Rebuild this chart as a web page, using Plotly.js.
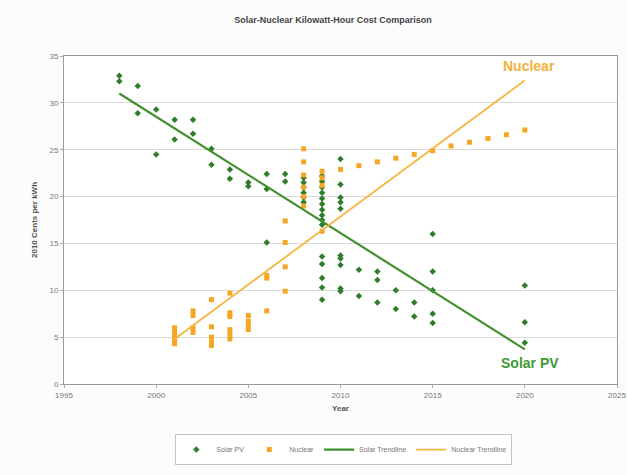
<!DOCTYPE html>
<html>
<head>
<meta charset="utf-8">
<script src="https://cdn.plot.ly/plotly-3.0.1.min.js"></script>
<style>
  html, body { margin: 0; padding: 0; background: #fcfcfc; }
  #chart { width: 627px; height: 475px; }
</style>
</head>
<body>
<div id="chart"></div>
<script>
// ---- Data ----
const solarYears = [
  1998, 1998, 1999, 1999, 2000, 2000, 2001, 2001, 2002, 2002,
  2003, 2003, 2004, 2004, 2005, 2005, 2006, 2006, 2006, 2007, 2007,
  2008, 2008, 2008, 2008, 2008, 2008,
  2009, 2009, 2009, 2009, 2009, 2009, 2009, 2009, 2009, 2009, 2009, 2009, 2009, 2009, 2009,
  2010, 2010, 2010, 2010, 2010, 2010, 2010, 2010, 2010, 2010,
  2011, 2011, 2012, 2012, 2012, 2013, 2013, 2014, 2014,
  2015, 2015, 2015, 2015, 2015, 2020, 2020, 2020
];
const solarCost = [
  32.9, 32.3, 31.8, 28.9, 29.3, 24.5, 28.2, 26.1, 28.2, 26.7,
  25.1, 23.4, 22.9, 21.9, 21.5, 21.1, 22.4, 20.8, 15.1, 22.4, 21.6,
  22.0, 21.5, 21.0, 20.4, 19.9, 19.4,
  22.2, 21.6, 21.0, 20.4, 19.8, 19.2, 18.6, 18.0, 17.5, 17.0, 13.6, 12.8, 11.3, 10.3, 9.0,
  24.0, 21.3, 19.9, 19.4, 18.7, 13.7, 13.4, 12.7, 10.2, 9.9,
  12.2, 9.4, 12.0, 11.1, 8.7, 10.0, 8.0, 8.7, 7.2,
  16.0, 12.0, 10.0, 7.5, 6.5, 10.5, 6.6, 4.4
];
const nuclearYears = [
  2001, 2001, 2001, 2001, 2001, 2002, 2002, 2002, 2002,
  2003, 2003, 2003, 2003, 2003, 2004, 2004, 2004, 2004, 2004, 2004,
  2005, 2005, 2005, 2005, 2006, 2006, 2006, 2007, 2007, 2007, 2007,
  2008, 2008, 2008, 2008, 2008, 2008, 2009, 2009, 2009, 2009,
  2010, 2011, 2012, 2013, 2014, 2015, 2016, 2017, 2018, 2019, 2020
];
const nuclearCost = [
  6.0, 5.5, 5.0, 4.6, 4.3, 7.8, 7.3, 6.0, 5.5,
  9.0, 6.1, 5.0, 4.5, 4.1, 9.7, 7.6, 7.2, 5.8, 5.3, 4.8,
  7.3, 6.7, 6.2, 5.8, 11.6, 11.3, 7.8, 17.4, 15.1, 12.5, 9.9,
  25.1, 23.7, 22.3, 21.0, 20.0, 19.0, 22.7, 22.0, 21.2, 16.3,
  22.9, 23.3, 23.7, 24.1, 24.5, 24.9, 25.4, 25.8, 26.2, 26.6, 27.1
];
const solarTrendYears = [1998, 2020];
const solarTrendCost = [31.0, 3.7];
const nuclearTrendYears = [2001, 2020];
const nuclearTrendCost = [4.8, 32.4];
const xTicks = [1995, 2000, 2005, 2010, 2015, 2020, 2025];
const yTicks = [0, 5, 10, 15, 20, 25, 30, 35];

const greenMk = '#2f7d2a';
const greenLn = '#43902f';
const orangeMk = '#f6a623';
const orangeLn = '#f5b540';

const traces = [
  { x: solarYears, y: solarCost, name: 'Solar PV', type: 'scatter', mode: 'markers',
    marker: { symbol: 'diamond', size: 5, color: greenMk } },
  { x: nuclearYears, y: nuclearCost, name: 'Nuclear', type: 'scatter', mode: 'markers',
    marker: { symbol: 'square', size: 5, color: orangeMk } },
  { x: solarTrendYears, y: solarTrendCost, name: 'Solar Trendline', type: 'scatter', mode: 'lines',
    line: { color: greenLn, width: 2.2 } },
  { x: nuclearTrendYears, y: nuclearTrendCost, name: 'Nuclear Trendline', type: 'scatter', mode: 'lines',
    line: { color: orangeLn, width: 1.8 } }
];

const tickFont = { family: 'Liberation Sans, Arial, sans-serif', size: 8, color: '#777' };

const layout = {
  width: 627, height: 475,
  paper_bgcolor: '#fcfcfc',
  plot_bgcolor: '#ffffff',
  margin: { l: 64, r: 10, t: 56, b: 86 },
  title: {
    text: '<b>Solar-Nuclear Kilowatt-Hour Cost Comparison</b>',
    font: { family: 'Liberation Sans, Arial, sans-serif', size: 9, color: '#444' },
    x: 0.531, xanchor: 'center', y: 0.958, yanchor: 'middle'
  },
  xaxis: {
    range: [1995, 2025], tickvals: xTicks, ticktext: xTicks.map(String),
    showgrid: false, zeroline: false,
    showline: true, linecolor: '#9a9a9a', linewidth: 1, mirror: true,
    ticks: 'outside', ticklen: 3, tickcolor: '#aaa',
    tickfont: tickFont,
    title: { text: '<b>Year</b>', font: { family: 'Liberation Sans, Arial, sans-serif', size: 8, color: '#555' }, standoff: 6 }
  },
  yaxis: {
    range: [0, 35], tickvals: yTicks, ticktext: yTicks.map(String),
    showgrid: true, gridcolor: '#d9d9d9', gridwidth: 1, zeroline: false,
    showline: true, linecolor: '#9a9a9a', linewidth: 1, mirror: true,
    ticks: 'outside', ticklen: 3, tickcolor: '#aaa',
    tickfont: tickFont,
    title: { text: '<b>2010 Cents per kWh</b>', font: { family: 'Liberation Sans, Arial, sans-serif', size: 8, color: '#555' }, standoff: 10 }
  },
  showlegend: true,
  legend: {
    orientation: 'h', x: 0.506, xanchor: 'center', y: -0.2, yanchor: 'middle',
    font: { family: 'Liberation Sans, Arial, sans-serif', size: 7, color: '#777' },
    bgcolor: '#ffffff', bordercolor: '#c4c4c4', borderwidth: 1,
    itemwidth: 30, tracegroupgap: 0
  },
  annotations: [
    { text: '<b>Nuclear</b>', x: 2020.2, y: 33.9, xref: 'x', yref: 'y', showarrow: false,
      xanchor: 'center', yanchor: 'middle',
      font: { family: 'Liberation Sans, Arial, sans-serif', size: 14, color: '#f3b23a' } },
    { text: '<b>Solar PV</b>', x: 2020.3, y: 2.2, xref: 'x', yref: 'y', showarrow: false,
      xanchor: 'center', yanchor: 'middle',
      font: { family: 'Liberation Sans, Arial, sans-serif', size: 14, color: '#3f9a35' } }
  ]
};

Plotly.newPlot('chart', traces, layout, { displayModeBar: false, staticPlot: true });
</script>
</body>
</html>
